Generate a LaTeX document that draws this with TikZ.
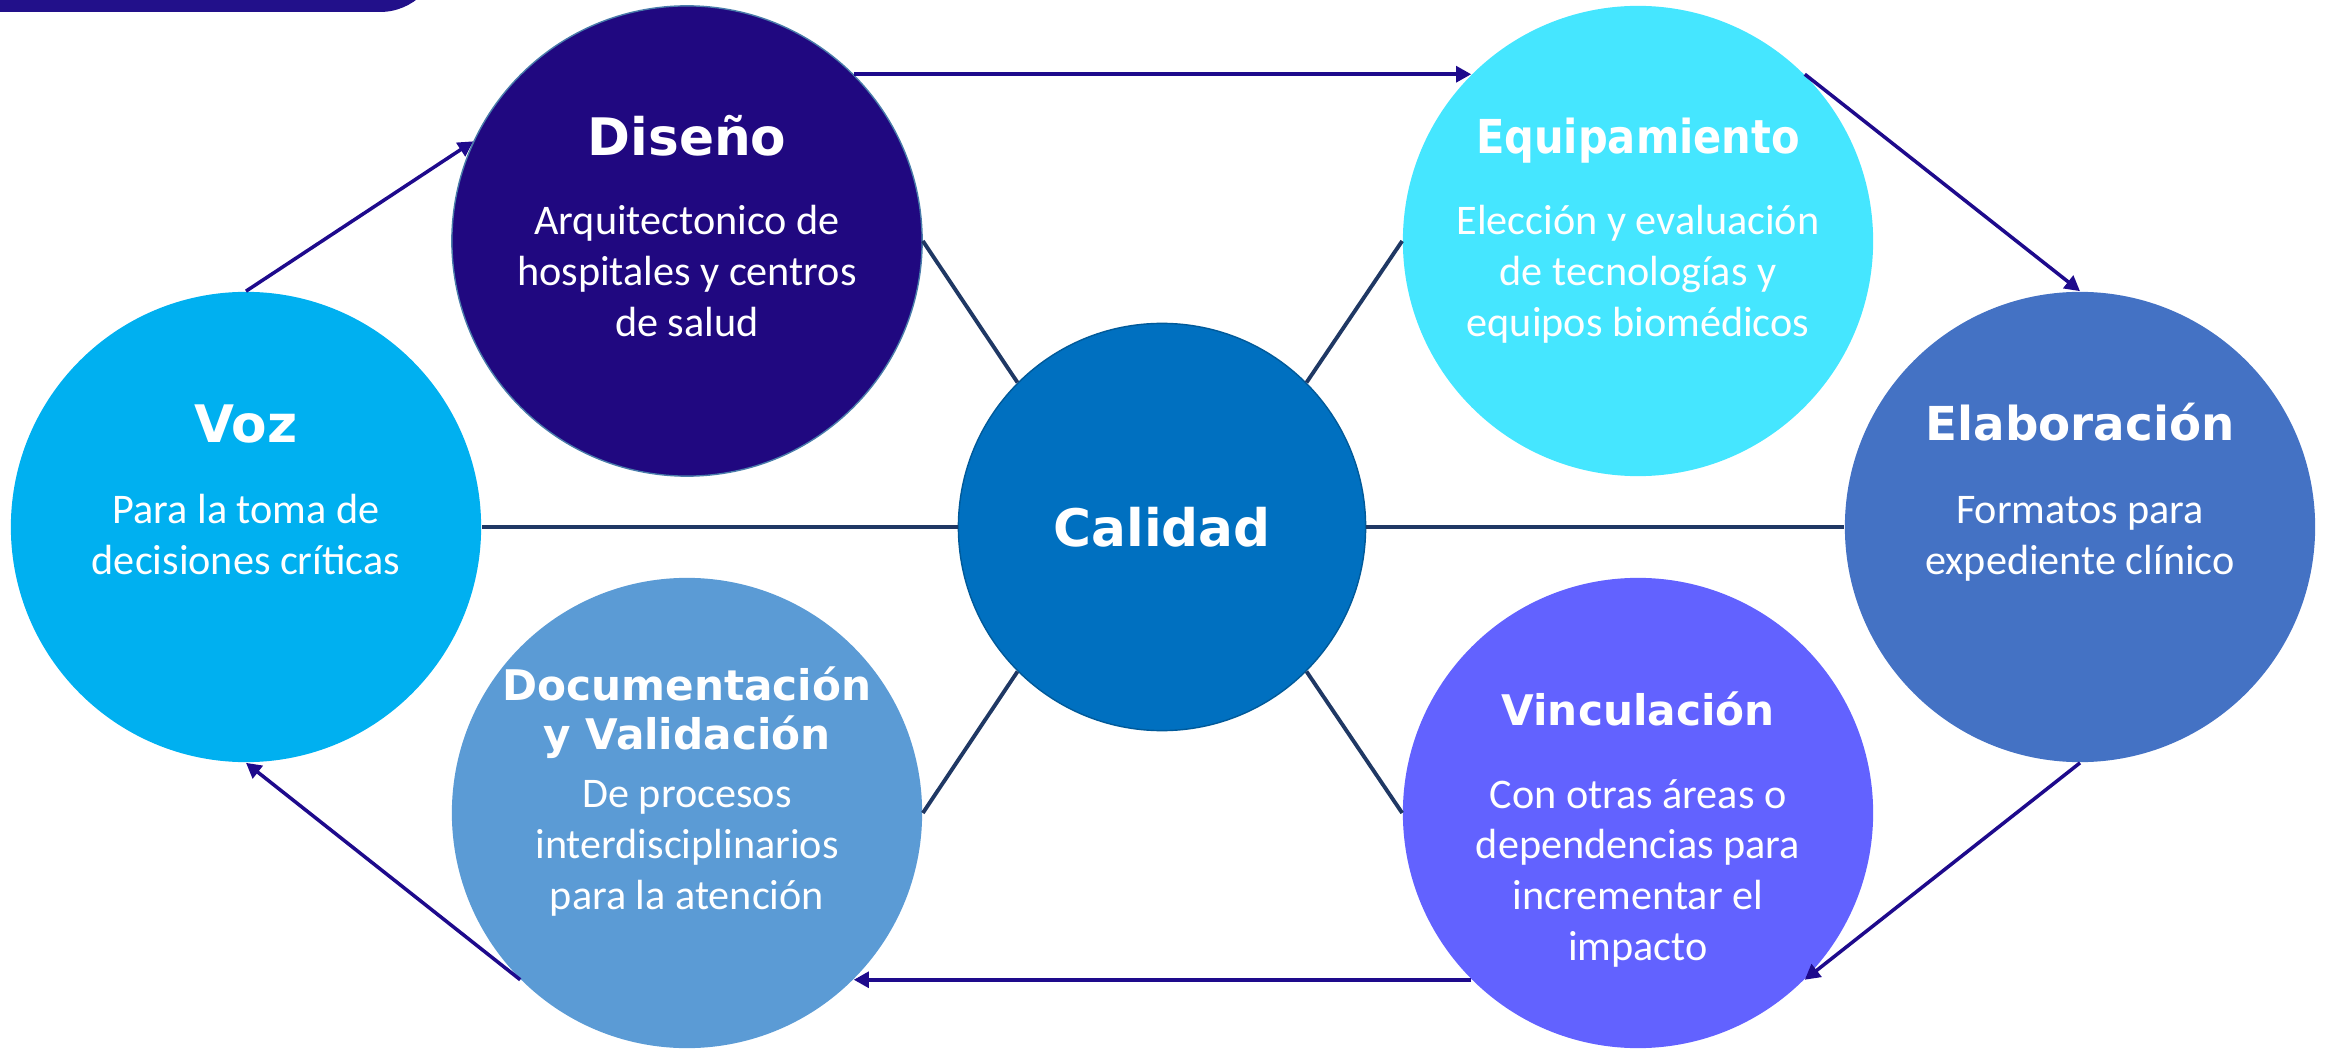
\documentclass[tikz,border=0pt]{standalone}
\usepackage{fontspec}
\usetikzlibrary{arrows.meta, positioning}
\newfontfamily\bodyfont{Carlito}
\newfontfamily\headfont{DejaVu Sans}

\definecolor{banner}{HTML}{22108A}
\definecolor{vozcol}{HTML}{00B0F0}
\definecolor{disenocol}{HTML}{200880}
\definecolor{equipcol}{HTML}{45E6FF}
\definecolor{elabcol}{HTML}{4472C4}
\definecolor{doccol}{HTML}{5B9BD5}
\definecolor{vinccol}{HTML}{6262FF}
\definecolor{calidadcol}{HTML}{0070C0}
\definecolor{flowcol}{HTML}{1E0A8C}
\definecolor{linkcol}{HTML}{1F3864}

\begin{document}
\begin{tikzpicture}
    [
        x=0.01cm, y=-0.01cm,
        stage/.style={circle, minimum size=4.7cm, inner sep=0pt},
        heading/.style={text=white, align=center, inner sep=0pt, anchor=base},
        bighead/.style={heading, font=\headfont\bfseries\fontsize{14.7}{17}\selectfont},
        midhead/.style={heading, font=\headfont\bfseries\fontsize{13.3}{16}\selectfont},
        smallhead/.style={heading, font=\headfont\bfseries\fontsize{12}{14.2}\selectfont},
        detail/.style={text=white, align=center, inner sep=0pt, anchor=base,
            font=\bodyfont\fontsize{12}{14.4}\selectfont},
        flow/.style={draw=flowcol, line width=1pt, -{Triangle[length=4.3pt, width=4.5pt]}},
        link/.style={draw=linkcol, line width=1.1pt},
    ]
    \useasboundingbox (0,0) rectangle (2330,1049);
    \fill[banner, rounded corners=0.6cm] (-100,-200) rectangle (440,12);

    % the six stages and the centre
    \node[stage, fill=vozcol] (voz) at (246,527) {};
    \node[stage, fill=disenocol, draw=doccol!80!black, thin] (diseno) at (687,241) {};
    \node[stage, fill=equipcol] (equip) at (1638,241) {};
    \node[stage, fill=elabcol] (elab) at (2080,527) {};
    \node[stage, fill=doccol] (doc) at (687,813) {};
    \node[stage, fill=vinccol] (vinc) at (1638,813) {};
    \node[circle, minimum size=4.07cm, inner sep=0pt, fill=calidadcol,
        draw=calidadcol!80!black, thin, text=white,
        font=\headfont\bfseries\fontsize{14.7}{17}\selectfont] (calidad) at (1162,527) {Calidad};

    % texts (base = last line)
    \node[bighead] (voz-head) [above=0.84cm of voz.center, anchor=base] {Voz};
    \node[detail] (voz-txt) [below=0.47cm of voz.center, anchor=base] {Para la toma de\\decisiones críticas};

    \node[bighead] (diseno-head) [above=0.85cm of diseno.center, anchor=base] {Diseño};
    \node[detail] (diseno-txt) [below=0.95cm of diseno.center, anchor=base] {Arquitectonico de\\hospitales y centros\\de salud};

    \node[midhead] (equip-head) [above=0.87cm of equip.center, anchor=base] {\scalebox{0.89}[1]{Equipamiento}};
    \node[detail] (equip-txt) [below=0.95cm of equip.center, anchor=base] {Elección y evaluación\\de tecnologías y\\equipos biomédicos};

    \node[midhead] (elab-head) [above=0.86cm of elab.center, anchor=base] {Elaboración};
    \node[detail] (elab-txt) [below=0.47cm of elab.center, anchor=base] {Formatos para\\expediente clínico};

    \node[smallhead] (doc-head) [above=0.63cm of doc.center, anchor=base] {Documentación\\y Validación};
    \node[detail] (doc-txt) [below=0.96cm of doc.center, anchor=base] {De procesos\\interdisciplinarios\\para la atención};

    \node[smallhead] (vinc-head) [above=0.87cm of vinc.center, anchor=base] {Vinculación};
    \node[detail] (vinc-txt) [below=1.47cm of vinc.center, anchor=base] {Con otras áreas o\\dependencias para\\incrementar el\\impacto};

    % spokes
    \draw[link] (calidad.west) -- (voz.east);
    \draw[link] (calidad.east) -- (elab.west);
    \draw[link] (calidad.135) -- (diseno.east);
    \draw[link] (calidad.45) -- (equip.west);
    \draw[link] (calidad.225) -- (doc.east);
    \draw[link] (calidad.-45) -- (vinc.west);

    % cycle
    \draw[flow] (voz.north) -- (diseno.155);
    \draw[flow] (diseno.45) -- (equip.135);
    \draw[flow] (equip.45) -- (elab.north);
    \draw[flow] (elab.south) -- (vinc.-45);
    \draw[flow] (vinc.225) -- (doc.-45);
    \draw[flow] (doc.225) -- (voz.south);
\end{tikzpicture}
\end{document}
